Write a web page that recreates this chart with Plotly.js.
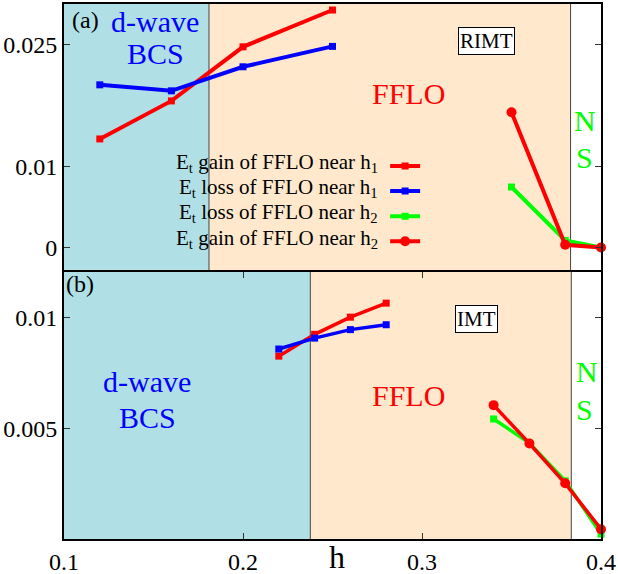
<!DOCTYPE html>
<html>
<head>
<meta charset="utf-8">
<script src="https://cdn.plot.ly/plotly-3.0.1.min.js"></script>
<style>html,body{margin:0;padding:0;background:#fff;}#chart{width:618px;height:574px;}</style>
</head>
<body>
<div id="chart"></div>
<script>
// ---- data ----
// panel (a) RIMT
const hA1 = [0.12, 0.16, 0.20, 0.25];
const gainA1 = [0.01336, 0.01804, 0.02470, 0.02923];
const lossA1 = [0.02002, 0.01928, 0.02224, 0.02475];
const hA2 = [0.35, 0.38, 0.40];
const lossA2 = [0.00744, 0.00086, 0.0];
const gainA2 = [0.01665, 0.00033, 0.0];
// panel (b) IMT
const hB1 = [0.22, 0.24, 0.26, 0.28];
const gainB1 = [0.00825, 0.00923, 0.01000, 0.01063];
const lossB1 = [0.00857, 0.00906, 0.00944, 0.00966];
const hB2 = [0.34, 0.36, 0.38, 0.40];
const lossB2 = [0.00543, 0.00435, 0.00265, 0.00026];
const gainB2 = [0.00605, 0.00433, 0.00254, 0.00048];
// phase boundaries: [start, BCS->FFLO, FFLO->NS]
const phaseA = [0.1, 0.181, 0.383];
const phaseB = [0.1, 0.2376, 0.3834];
// tick labels
const xTicks = [0.1, 0.2, 0.3, 0.4];
const xTickText = ['0.1', '0.2', '0.3', '0.4'];
const yTicksA = [0, 0.01, 0.025];
const yTickTextA = ['0', '0.01', '0.025'];
const yTicksB = [0.005, 0.01];
const yTickTextB = ['0.005', '0.01'];
const legendNames = [
  'E<sub>t</sub> gain of FFLO near h<sub>1</sub>',
  'E<sub>t</sub> loss of FFLO near h<sub>1</sub>',
  'E<sub>t</sub> loss of FFLO near h<sub>2</sub>',
  'E<sub>t</sub> gain of FFLO near h<sub>2</sub>'
];

const RED = '#ff0000', BLUE = '#0000ff', GREEN = '#00ff00';
const CYAN = '#b0e0e6', ORANGE = '#ffe8cc';
const FONT = "'Liberation Serif', 'Times New Roman', 'DejaVu Serif', serif";

function tr(x, y, xa, ya, color, symbol, size, width, show) {
  return {x: x, y: y, xaxis: xa, yaxis: ya, type: 'scatter', mode: 'lines+markers',
    line: {color: color, width: width}, marker: {color: color, symbol: symbol, size: size},
    cliponaxis: false, name: '', showlegend: show};
}

const data = [
  tr(hA1, gainA1, 'x2', 'y', RED, 'square', 7, 4, true),
  tr(hA1, lossA1, 'x2', 'y', BLUE, 'square', 7, 4, true),
  tr(hA2, lossA2, 'x2', 'y', GREEN, 'square', 7, 4, true),
  tr(hA2, gainA2, 'x2', 'y', RED, 'circle', 10, 4, true),
  tr(hB1, gainB1, 'x', 'y2', RED, 'square', 7, 3.5, false),
  tr(hB1, lossB1, 'x', 'y2', BLUE, 'square', 7, 3.5, false),
  tr(hB2, lossB2, 'x', 'y2', GREEN, 'square', 7, 3.5, false),
  tr(hB2, gainB2, 'x', 'y2', RED, 'circle', 10, 3.5, false)
];

function region(xref, yref, x0, x1, color) {
  return {type: 'rect', xref: xref, yref: yref + ' domain', x0: x0, x1: x1, y0: 0, y1: 1,
    fillcolor: color, line: {width: 0}, layer: 'below'};
}
function vline(xref, yref, x) {
  return {type: 'line', xref: xref, yref: yref + ' domain', x0: x, x1: x, y0: 0, y1: 1,
    line: {color: '#444', width: 1}, layer: 'below'};
}
const shapes = [
  region('x2', 'y', phaseA[0], phaseA[1], CYAN),
  region('x2', 'y', phaseA[1], phaseA[2], ORANGE),
  vline('x2', 'y', phaseA[1]), vline('x2', 'y', phaseA[2]),
  region('x', 'y2', phaseB[0], phaseB[1], CYAN),
  region('x', 'y2', phaseB[1], phaseB[2], ORANGE),
  vline('x', 'y2', phaseB[1]), vline('x', 'y2', phaseB[2])
];

function ann(text, xref, yref, x, y, color, size, extra) {
  return Object.assign({text: text, xref: xref, yref: yref, x: x, y: y, showarrow: false,
    font: {family: FONT, size: size, color: color}, xanchor: 'center', yanchor: 'middle'}, extra || {});
}
// positions in axis-domain fractions
const annotations = [
  ann('(a)', 'x2 domain', 'y domain', 0.040, 0.94, 'black', 24),
  ann('d-wave', 'x2 domain', 'y domain', 0.170, 0.935, BLUE, 30),
  ann('BCS', 'x2 domain', 'y domain', 0.170, 0.815, BLUE, 30),
  ann('FFLO', 'x2 domain', 'y domain', 0.641, 0.665, RED, 30),
  ann('RIMT', 'x2 domain', 'y domain', 0.786, 0.862, 'black', 21,
      {bgcolor: 'white', bordercolor: 'black', borderwidth: 1, borderpad: 1}),
  ann('N', 'x2 domain', 'y domain', 0.970, 0.565, GREEN, 30),
  ann('S', 'x2 domain', 'y domain', 0.970, 0.427, GREEN, 30),
  ann('(b)', 'x domain', 'y2 domain', 0.030, 0.955, 'black', 24),
  ann('d-wave', 'x domain', 'y2 domain', 0.155, 0.588, BLUE, 30),
  ann('BCS', 'x domain', 'y2 domain', 0.155, 0.453, BLUE, 30),
  ann('FFLO', 'x domain', 'y2 domain', 0.641, 0.535, RED, 30),
  ann('IMT', 'x domain', 'y2 domain', 0.769, 0.822, 'black', 21,
      {bgcolor: 'white', bordercolor: 'black', borderwidth: 1, borderpad: 1}),
  ann('N', 'x domain', 'y2 domain', 0.974, 0.625, GREEN, 30),
  ann('S', 'x domain', 'y2 domain', 0.970, 0.483, GREEN, 30),
  ann('h', 'x domain', 'y2 domain', 0.508, -0.067, 'black', 32)
];
// legend labels (text on the left of the symbols)
const legY = [0.406, 0.311, 0.217, 0.123];
legendNames.forEach(function (t, i) {
  annotations.push(ann(t, 'x2 domain', 'y domain', 0.588, legY[i], 'black', 21,
    {xanchor: 'right'}));
});

const axisCommon = {showgrid: false, zeroline: false, showline: true, linecolor: 'black',
  linewidth: 2, mirror: 'ticks', ticks: 'inside', ticklen: 6, tickwidth: 1, tickcolor: '#333',
  tickfont: {family: FONT, size: 24, color: 'black'}};

const layout = {
  width: 618, height: 574,
  margin: {l: 64, r: 17, t: 4, b: 35},
  paper_bgcolor: 'white', plot_bgcolor: 'white',
  font: {family: FONT},
  showlegend: true,
  legend: {x: 0.598, xanchor: 'left', y: 0.73, yanchor: 'top', bgcolor: 'rgba(0,0,0,0)',
    font: {family: FONT, size: 17}, itemwidth: 30, tracegroupgap: 0},
  xaxis: Object.assign({}, axisCommon, {domain: [0, 1], anchor: 'y2', range: [0.1, 0.4],
    tickvals: xTicks, ticktext: xTickText}),
  xaxis2: Object.assign({}, axisCommon, {domain: [0, 1], anchor: 'y', range: [0.1, 0.4],
    matches: 'x', showticklabels: false, ticks: '', side: 'top', mirror: false}),
  yaxis: Object.assign({}, axisCommon, {domain: [0.5, 1], anchor: 'x2', range: [-0.00296, 0.02997],
    tickvals: yTicksA, ticktext: yTickTextA}),
  yaxis2: Object.assign({}, axisCommon, {domain: [0, 0.5], anchor: 'x', range: [0.00004, 0.01205],
    tickvals: yTicksB, ticktext: yTickTextB}),
  shapes: shapes,
  annotations: annotations
};

Plotly.newPlot('chart', data, layout, {displayModeBar: false, staticPlot: true});
</script>
</body>
</html>
